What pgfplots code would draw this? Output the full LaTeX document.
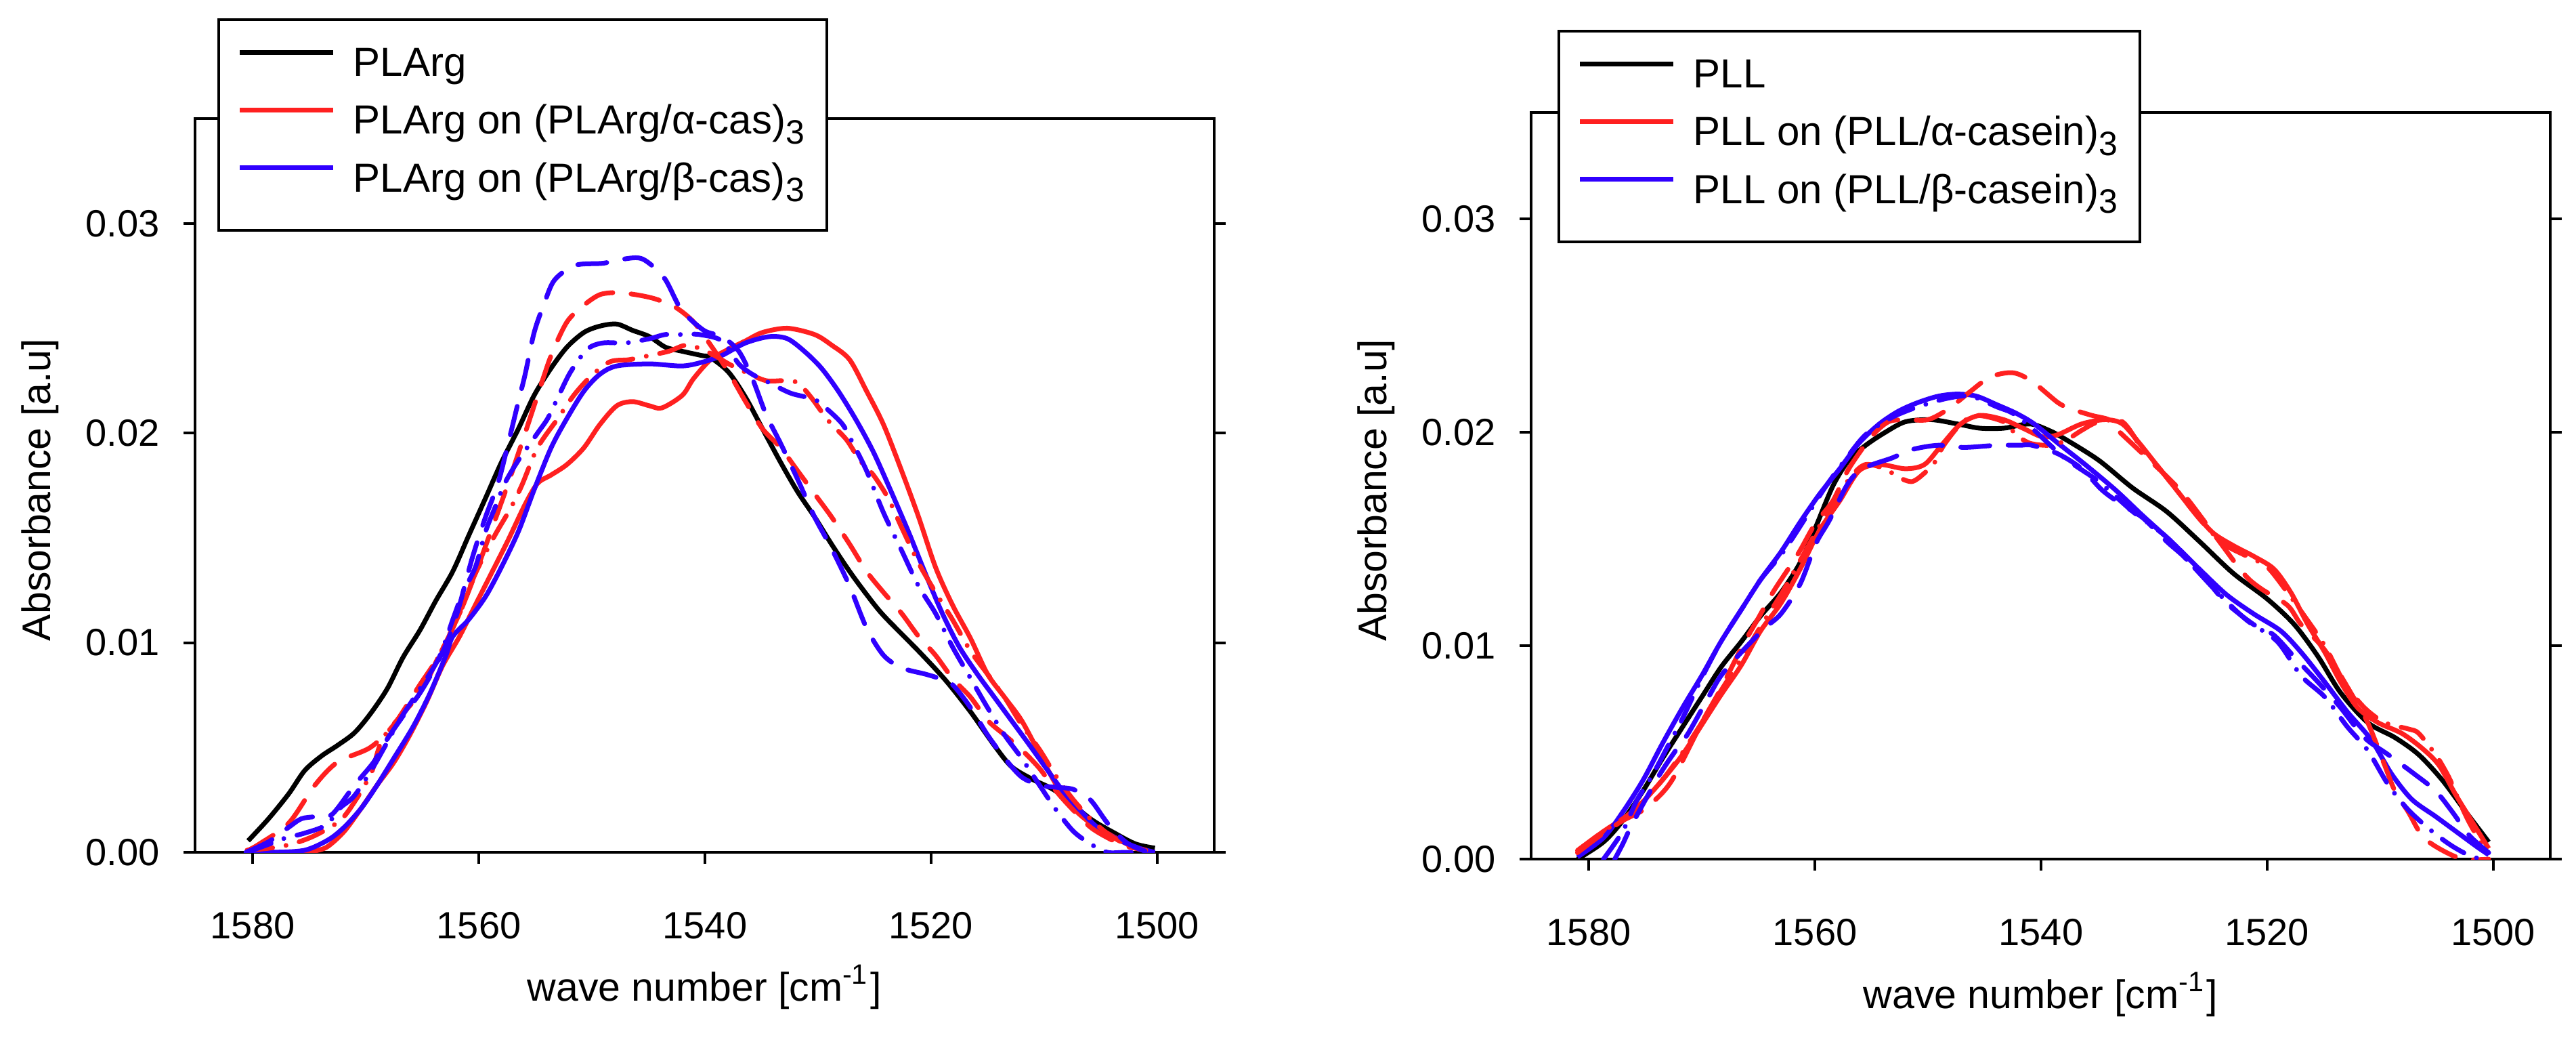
\documentclass[border=0pt]{standalone}
\usepackage{fontspec}
\setmainfont{Liberation Sans}
\usepackage{pgfplots}
\pgfplotsset{compat=1.18}
\definecolor{cred}{RGB}{255,32,32}
\definecolor{cblue}{RGB}{48,0,255}
\pgfplotsset{
  panel/.style={
    scale only axis, width=150.5pt,
    x dir=reverse, xmin=1494.95, xmax=1585.1, ymin=0, ymax=0.035,
    xtick={1500,1520,1540,1560,1580}, ytick={0,0.01,0.02,0.03},
    tick align=outside, xtick pos=bottom, ytick pos=both, yticklabel pos=left,
    major tick length=1.7pt,
    axis line style={line width=0.4pt},
    every tick/.style={black, line width=0.4pt},
    tick label style={font=\fontsize{5.6}{6.7}\selectfont},
    /pgf/number format/assume math mode=true,
    yticklabel style={/pgf/number format/.cd, fixed, fixed zerofill, precision=2},
    xticklabel style={/pgf/number format/set thousands separator={}, yshift=-3.6pt},
    scaled y ticks=false,
    label style={font=\fontsize{5.9}{7}\selectfont},
    every axis plot/.append style={line width=0.7pt, line join=round},
    legend style={draw=black, line width=0.4pt, fill=white,
      font=\fontsize{6}{7.2}\selectfont, anchor=north west,
      inner xsep=2.8pt, inner ysep=4.2pt, row sep=2.7pt, column sep=2.6pt,
      nodes={inner sep=0pt}},
    legend cell align=left,
    legend image code/.code={\draw[#1, line width=0.7pt] (0pt,2.15pt) -- (13.8pt,2.15pt);},
  },
  dsh/.style={dash pattern=on 4.3pt off 2.7pt, line cap=round},
  dshdot/.style={dash pattern=on 3.8pt off 2.0pt on 0.01pt off 2.0pt, line cap=round},
}
\begin{document}
\begin{tikzpicture}
\useasboundingbox (0,0) rectangle (380.4pt,153.7pt);
% ---------------- left panel ----------------
\begin{axis}[panel, at={(28.8pt,27.9pt)}, anchor=south west, height=108.3pt,
  xlabel={wave number [cm\textsuperscript{-1}]},
  ylabel={Absorbance [a.u]},
  xlabel style={at={(axis description cs:0.5,0)}, anchor=center, yshift=-19.9pt},
  ylabel style={at={(axis description cs:-0.1522,0.494)}, anchor=center},
  legend style={at={(0.0219,1.1367)}}]
\addplot[black, smooth] coordinates {
(1580.4,0.00055) (1578.6,0.0016) (1576.8,0.0028) (1575.4,0.0039) (1573.9,0.0046) (1572.5,0.0051) (1571.0,0.0057) (1569.6,0.0066) (1568.1,0.0078) (1566.7,0.0093) (1565.2,0.0106) (1563.8,0.0120) (1562.3,0.0134) (1560.9,0.0151) (1559.4,0.0169) (1558.0,0.0186) (1556.5,0.0202) (1555.1,0.0218) (1553.6,0.0231) (1552.2,0.0241) (1550.7,0.0248) (1549.3,0.0251) (1547.8,0.0252) (1546.4,0.0249) (1544.9,0.0246) (1543.5,0.0241) (1542.0,0.0239) (1540.3,0.0237) (1539.5,0.0236) (1537.9,0.0229) (1536.4,0.0217) (1534.9,0.0202) (1533.3,0.0186) (1531.8,0.0172) (1530.3,0.0160) (1528.8,0.0147) (1527.2,0.0134) (1525.7,0.0123) (1524.2,0.0113) (1521.1,0.0096) (1518.7,0.0082) (1516.5,0.0067) (1514.4,0.0051) (1512.9,0.0041) (1511.1,0.0035) (1508.9,0.0029) (1505.9,0.0016) (1503.7,0.0009) (1501.9,0.0004) (1500.2,0.0002)};
\addlegendentry{PLArg}
\addplot[cred, smooth] coordinates {
(1580.5,0.0001) (1578,0.0) (1575.5,0.0) (1574.2,0.0001) (1573.3,0.0003) (1571.9,0.0010) (1570.4,0.0021) (1569.0,0.0032) (1567.5,0.0043) (1566.1,0.0056) (1564.6,0.0072) (1563.2,0.0089) (1561.7,0.0103) (1560.3,0.0118) (1558.8,0.0134) (1557.4,0.0149) (1555.9,0.0166) (1554.8,0.0176) (1553.6,0.0180) (1552.2,0.0185) (1550.7,0.0193) (1549.3,0.0204) (1547.8,0.0213) (1546.4,0.0215) (1544.9,0.0213) (1543.8,0.0212) (1542.0,0.0218) (1541.0,0.0226) (1539.5,0.0235) (1537.9,0.0240) (1536.4,0.0244) (1534.9,0.0248) (1532.7,0.0250) (1530.3,0.0247) (1528.8,0.0242) (1527.2,0.0235) (1525.7,0.0220) (1524.2,0.0204) (1522.6,0.0182) (1521.1,0.0160) (1519.6,0.0136) (1518.1,0.0118) (1516.5,0.0102) (1515.0,0.0085) (1513.5,0.0074) (1512.0,0.0063) (1510.4,0.0047) (1508.9,0.0032) (1507.4,0.0021) (1505.9,0.0014) (1503.7,0.0007) (1501.9,0.0002) (1500.2,0.0)};
\addlegendentry{PLArg on (PLArg/α-cas)\textsubscript{3}}
\addplot[cblue, smooth] coordinates {
(1580.6,0.0) (1578.3,0.0) (1575.4,0.0001) (1573.3,0.0006) (1571.9,0.0012) (1570.4,0.0021) (1569.0,0.0032) (1567.5,0.0045) (1565.8,0.0060) (1564.3,0.0076) (1562.9,0.0094) (1562.3,0.0103) (1560.9,0.0111) (1559.4,0.0122) (1558.0,0.0136) (1556.5,0.0153) (1555.1,0.0173) (1553.6,0.0193) (1552.2,0.0207) (1550.7,0.0220) (1549.3,0.0228) (1547.8,0.0232) (1544.9,0.0233) (1542.0,0.0232) (1540.1,0.0234) (1538.5,0.0237) (1536.4,0.0243) (1534.3,0.0246) (1532.7,0.0245) (1531.2,0.0239) (1529.7,0.0231) (1528.2,0.0220) (1526.6,0.0206) (1525.1,0.0191) (1523.6,0.0173) (1522.0,0.0153) (1520.5,0.0133) (1519.0,0.0114) (1517.5,0.0098) (1515.9,0.0085) (1514.4,0.0074) (1512.9,0.0063) (1511.4,0.0052) (1509.8,0.0040) (1508.3,0.0029) (1506.8,0.0020) (1505.3,0.0012) (1503.4,0.0006) (1501.6,0.0002) (1500.2,0.0)};
\addlegendentry{PLArg on (PLArg/β-cas)\textsubscript{3}}
\addplot[cred, dsh, smooth, forget plot] coordinates {
(1580.4,0.0001) (1579.4,0.0004) (1576.8,0.0014) (1574.5,0.0032) (1572.5,0.0043) (1569.6,0.0050) (1567.5,0.0061) (1565.2,0.0080) (1563.5,0.0094) (1561.7,0.0114) (1560.3,0.0133) (1558.8,0.0155) (1557.4,0.0176) (1555.9,0.0200) (1554.8,0.0218) (1553.6,0.0237) (1552.2,0.0253) (1550.7,0.0261) (1549.3,0.0266) (1547.8,0.0267) (1546.1,0.0266) (1544.4,0.0264) (1542.6,0.0260) (1541.0,0.0253) (1539.5,0.0242) (1537.9,0.0229) (1536.4,0.0215) (1534.9,0.0202) (1533.3,0.0193) (1531.8,0.0182) (1530.3,0.0171) (1528.8,0.0160) (1527.2,0.0147) (1525.7,0.0134) (1524.2,0.0124) (1522.6,0.0114) (1521.1,0.0103) (1519.6,0.0094) (1518.1,0.0083) (1516.5,0.0074) (1515.0,0.0063) (1513.5,0.0056) (1512.0,0.0049) (1510.4,0.0040) (1508.9,0.0029) (1507.4,0.0020) (1505.9,0.0012) (1504.4,0.0007) (1502.8,0.0003) (1501.0,0.0001)};
\addplot[cred, dshdot, smooth, forget plot] coordinates {
(1580.5,0.0001) (1578.5,0.0002) (1576.5,0.0004) (1574.5,0.0008) (1572.3,0.0015) (1571.0,0.0024) (1569.5,0.0038) (1568.4,0.0055) (1565.2,0.0076) (1563.5,0.0094) (1561.7,0.0114) (1560.3,0.0133) (1558.6,0.0151) (1557.2,0.0164) (1556.2,0.0175) (1554.8,0.0193) (1553.0,0.0207) (1551.6,0.0218) (1550.1,0.0227) (1548.4,0.0234) (1546.7,0.0235) (1544.9,0.0237) (1543.2,0.0239) (1541.5,0.0242) (1539.5,0.0238) (1537.9,0.0233) (1536.4,0.0229) (1534.6,0.0225) (1533.0,0.0225) (1531.8,0.0224) (1530.6,0.0217) (1529.1,0.0206) (1527.5,0.0197) (1526.3,0.0187) (1525.1,0.0180) (1523.8,0.0169) (1522.6,0.0155) (1521.1,0.0138) (1519.6,0.0124) (1518.1,0.0111) (1516.5,0.0096) (1515.0,0.0085) (1513.5,0.0074) (1512.0,0.0061) (1510.4,0.0049) (1508.9,0.0036) (1507.4,0.0025) (1505.9,0.0016) (1504.4,0.0009) (1502.8,0.0004) (1501.0,0.0001)};
\addplot[cblue, dsh, smooth, forget plot] coordinates {
(1580.6,0.0) (1578.6,0.0005) (1576.8,0.0012) (1575.7,0.0016) (1574.5,0.0017) (1573.0,0.0018) (1571.0,0.0032) (1569.3,0.0043) (1568.1,0.0054) (1566.7,0.0065) (1565.2,0.0076) (1563.8,0.0089) (1562.6,0.0103) (1561.7,0.0118) (1560.6,0.0140) (1559.4,0.0160) (1558.3,0.0176) (1557.4,0.0195) (1556.5,0.0215) (1555.9,0.0228) (1555.1,0.0248) (1554.2,0.0262) (1553.3,0.0273) (1551.5,0.0280) (1549.0,0.0281) (1547.2,0.0283) (1545.5,0.0283) (1543.6,0.0274) (1542.1,0.0259) (1540.1,0.0249) (1538.5,0.0246) (1537.0,0.0239) (1535.8,0.0226) (1534.6,0.0209) (1533.3,0.0195) (1531.8,0.0178) (1530.3,0.0160) (1528.8,0.0145) (1527.2,0.0127) (1525.7,0.0107) (1524.2,0.0094) (1522.6,0.0088) (1520.5,0.0085) (1519.3,0.0083) (1518.1,0.0080) (1516.5,0.0069) (1515.0,0.0056) (1513.5,0.0045) (1512.0,0.0036) (1510.4,0.0032) (1508.9,0.0031) (1507.4,0.0030) (1505.9,0.0025) (1504.4,0.0014) (1502.8,0.0005) (1501.3,0.0001) (1500.2,0.0)};
\addplot[cblue, dshdot, smooth, forget plot] coordinates {
(1580.5,0.0) (1578.5,0.0004) (1577.0,0.0007) (1575.5,0.0009) (1573.5,0.0013) (1572.3,0.0021) (1571.0,0.0027) (1569.3,0.0041) (1567.0,0.0063) (1565.2,0.0078) (1563.5,0.0093) (1562.3,0.0111) (1561.4,0.0124) (1560.3,0.0136) (1559.4,0.0153) (1558.6,0.0164) (1557.7,0.0176) (1556.5,0.0187) (1554.8,0.0200) (1553.9,0.0207) (1553.0,0.0217) (1551.9,0.0229) (1550.4,0.0240) (1549.0,0.0243) (1547.0,0.0243) (1544.9,0.0245) (1543.5,0.0247) (1542.0,0.0247) (1540.5,0.0247) (1538.5,0.0244) (1537.0,0.0233) (1535.8,0.0228) (1534.3,0.0224) (1532.4,0.0219) (1530.3,0.0216) (1529.1,0.0211) (1527.8,0.0204) (1526.9,0.0195) (1525.7,0.0182) (1524.2,0.0162) (1522.6,0.0144) (1521.1,0.0127) (1519.6,0.0114) (1518.1,0.0098) (1516.5,0.0083) (1515.0,0.0069) (1513.5,0.0056) (1512.0,0.0045) (1510.4,0.0032) (1508.9,0.0020) (1507.4,0.0010) (1505.9,0.0004) (1504.4,0.0) (1502.8,0.0) (1500.2,0.0)};
\end{axis}
% ---------------- right panel ----------------
\begin{axis}[panel, at={(226.1pt,26.9pt)}, anchor=south west, height=110.2pt,
  xlabel={wave number [cm\textsuperscript{-1}]},
  ylabel={Absorbance [a.u]},
  xlabel style={at={(axis description cs:0.5,0)}, anchor=center, yshift=-20.0pt},
  ylabel style={at={(axis description cs:-0.1521,0.494)}, anchor=center},
  legend style={at={(0.0259,1.1107)}}]
\addplot[black, smooth] coordinates {
(1581.0,0.0) (1578.7,0.0008) (1577.0,0.0018) (1575.2,0.0032) (1573.5,0.0047) (1571.7,0.0062) (1570.0,0.0076) (1568.3,0.0090) (1566.5,0.0102) (1564.8,0.0114) (1563.0,0.0125) (1561.3,0.0139) (1559.9,0.0156) (1558.4,0.0175) (1557.0,0.0187) (1555.5,0.0194) (1553.8,0.0200) (1552.0,0.0205) (1549.7,0.0206) (1547.4,0.0204) (1545.4,0.0202) (1543.3,0.0202) (1541.0,0.0204) (1539.3,0.0201) (1537.9,0.0197) (1534.9,0.0187) (1531.9,0.0174) (1528.9,0.0163) (1526.0,0.0149) (1523.0,0.0134) (1520.0,0.0122) (1517.6,0.0110) (1515.5,0.0095) (1513.5,0.0078) (1511.1,0.0064) (1508.7,0.0057) (1506.6,0.0049) (1504.5,0.0037) (1502.4,0.0022) (1500.4,0.0008)};
\addlegendentry{PLL}
\addplot[cred, smooth] coordinates {
(1581.0,0.0004) (1578.7,0.0013) (1576.7,0.0020) (1575.2,0.0027) (1573.5,0.0037) (1571.7,0.0049) (1570.0,0.0063) (1568.3,0.0077) (1566.5,0.0091) (1564.8,0.0107) (1563.0,0.0120) (1561.3,0.0136) (1559.6,0.0154) (1557.8,0.0168) (1556.1,0.0182) (1554.3,0.0185) (1552.0,0.0183) (1550.3,0.0185) (1548.8,0.0194) (1547.1,0.0204) (1545.4,0.0208) (1543.3,0.0206) (1541.6,0.0202) (1539.9,0.0198) (1538.5,0.0199) (1536.4,0.0204) (1534.3,0.0206) (1532.8,0.0204) (1531.3,0.0195) (1529.8,0.0185) (1528.3,0.0175) (1526.5,0.0163) (1524.8,0.0153) (1523.0,0.0147) (1521.2,0.0142) (1519.4,0.0136) (1517.9,0.0125) (1516.4,0.0110) (1514.9,0.0097) (1513.5,0.0083) (1512.0,0.0071) (1510.2,0.0064) (1508.1,0.0059) (1506.3,0.0052) (1504.8,0.0044) (1503.3,0.0030) (1501.8,0.0017) (1500.4,0.0005)};
\addlegendentry{PLL on (PLL/α-casein)\textsubscript{3}}
\addplot[cblue, smooth] coordinates {
(1581.0,0.0001) (1578.7,0.0010) (1577.0,0.0022) (1575.2,0.0037) (1573.5,0.0054) (1571.7,0.0071) (1570.0,0.0086) (1568.3,0.0102) (1566.5,0.0117) (1564.8,0.0131) (1563.0,0.0144) (1561.3,0.0158) (1559.6,0.0171) (1557.8,0.0183) (1556.1,0.0195) (1554.3,0.0204) (1552.6,0.0210) (1550.9,0.0214) (1549.1,0.0217) (1547.4,0.0218) (1545.7,0.0217) (1543.9,0.0213) (1542.2,0.0209) (1540.6,0.0204) (1538.5,0.0195) (1536.1,0.0185) (1533.4,0.0173) (1531.0,0.0161) (1528.3,0.0148) (1526.0,0.0136) (1523.6,0.0124) (1521.2,0.0115) (1518.8,0.0107) (1517.0,0.0097) (1514.9,0.0083) (1512.9,0.0069) (1510.8,0.0056) (1509.0,0.0040) (1507.2,0.0028) (1505.1,0.0020) (1503.3,0.0013) (1501.5,0.0006) (1500.4,0.0002)};
\addlegendentry{PLL on (PLL/β-casein)\textsubscript{3}}
\addplot[cred, dsh, smooth, forget plot] coordinates {
(1581.0,0.0003) (1579.0,0.0011) (1577.0,0.0018) (1575.2,0.0023) (1573.5,0.0031) (1572.3,0.0040) (1570.0,0.0064) (1568.3,0.0080) (1566.5,0.0099) (1565.0,0.0113) (1563.6,0.0126) (1561.5,0.0143) (1560.0,0.0157) (1558.4,0.0168) (1557.0,0.0183) (1555.0,0.0198) (1553.5,0.0205) (1552.0,0.0206) (1550.0,0.0206) (1548.2,0.0211) (1546.3,0.0219) (1544.5,0.0226) (1542.5,0.0228) (1540.8,0.0224) (1538.5,0.0214) (1537.3,0.0211) (1535.5,0.0208) (1534.0,0.0206) (1533.4,0.0202) (1531.0,0.0190) (1527.7,0.0173) (1524.8,0.0153) (1522.1,0.0134) (1520.6,0.0127) (1518.2,0.0119) (1517.0,0.0110) (1514.9,0.0098) (1512.6,0.0078) (1511.1,0.0064) (1509.6,0.0044) (1508.7,0.0032) (1507.5,0.0022) (1506.3,0.0011) (1504.8,0.0005) (1502.7,0.0) (1500.4,0.0)};
\addplot[cred, dshdot, smooth, forget plot] coordinates {
(1581.0,0.0004) (1578.7,0.0013) (1576.7,0.0020) (1575.2,0.0027) (1573.5,0.0037) (1571.7,0.0050) (1570.0,0.0064) (1568.3,0.0079) (1566.5,0.0094) (1564.8,0.0109) (1563.0,0.0124) (1561.3,0.0140) (1559.6,0.0156) (1558.0,0.0170) (1556.7,0.0180) (1555.5,0.0185) (1553.8,0.0183) (1552.6,0.0179) (1551.4,0.0177) (1550.3,0.0181) (1549.4,0.0186) (1548.6,0.0194) (1547.1,0.0204) (1545.7,0.0208) (1543.3,0.0205) (1542.2,0.0199) (1541.0,0.0195) (1539.3,0.0194) (1537.9,0.0196) (1536.4,0.0201) (1534.9,0.0205) (1532.8,0.0205) (1531.0,0.0192) (1529.5,0.0183) (1527.7,0.0171) (1525.9,0.0159) (1523.9,0.0148) (1521.8,0.0142) (1520.0,0.0137) (1518.2,0.0125) (1516.7,0.0114) (1514.9,0.0100) (1513.2,0.0083) (1511.4,0.0071) (1509.6,0.0064) (1507.5,0.0061) (1506.6,0.0059) (1505.1,0.0049) (1504.4,0.0043) (1503.8,0.0037) (1503.0,0.0027) (1502.1,0.0017) (1500.9,0.0006) (1500.4,0.0003)};
\addplot[cblue, dsh, smooth, forget plot] coordinates {
(1577.7,0.0) (1577.0,0.0007) (1576.1,0.0017) (1573.8,0.0039) (1572.3,0.0051) (1571.2,0.0059) (1569.4,0.0076) (1568.3,0.0086) (1566.5,0.0097) (1564.5,0.0108) (1563.0,0.0115) (1561.3,0.0129) (1559.9,0.0148) (1558.7,0.0159) (1557.2,0.0175) (1556.1,0.0182) (1554.9,0.0185) (1553.2,0.0188) (1551.4,0.0192) (1549.1,0.0194) (1546.8,0.0193) (1543.9,0.0194) (1541.9,0.0194) (1540.8,0.0194) (1538.5,0.0190) (1536.4,0.0183) (1534.6,0.0173) (1532.8,0.0166) (1531.0,0.0160) (1528.9,0.0149) (1527.4,0.0142) (1525.4,0.0131) (1523.6,0.0120) (1521.2,0.0110) (1519.4,0.0105) (1517.3,0.0093) (1515.5,0.0083) (1513.5,0.0071) (1511.4,0.0057) (1509.3,0.0049) (1507.0,0.0040) (1505.1,0.0032) (1503.6,0.0022) (1502.1,0.0011) (1500.4,0.0003)};
\addplot[cblue, dshdot, smooth, forget plot] coordinates {
(1578.7,0.0) (1577.0,0.0013) (1575.8,0.0027) (1574.3,0.0040) (1572.9,0.0054) (1571.7,0.0066) (1570.0,0.0085) (1568.3,0.0102) (1566.5,0.0117) (1564.8,0.0131) (1562.8,0.0144) (1560.7,0.0161) (1559.0,0.0175) (1557.2,0.0188) (1555.5,0.0199) (1553.2,0.0207) (1550.9,0.0212) (1548.3,0.0216) (1546.2,0.0217) (1543.9,0.0212) (1542.5,0.0209) (1540.8,0.0202) (1537.9,0.0188) (1534.9,0.0177) (1531.9,0.0163) (1528.9,0.0151) (1526.5,0.0137) (1524.2,0.0124) (1521.8,0.0112) (1519.1,0.0102) (1517.0,0.0086) (1514.9,0.0076) (1512.9,0.0062) (1511.1,0.0051) (1509.3,0.0035) (1507.5,0.0023) (1505.4,0.0013) (1503.6,0.0006) (1501.8,0.0001) (1500.4,0.0)};
\end{axis}
\end{tikzpicture}
\end{document}
